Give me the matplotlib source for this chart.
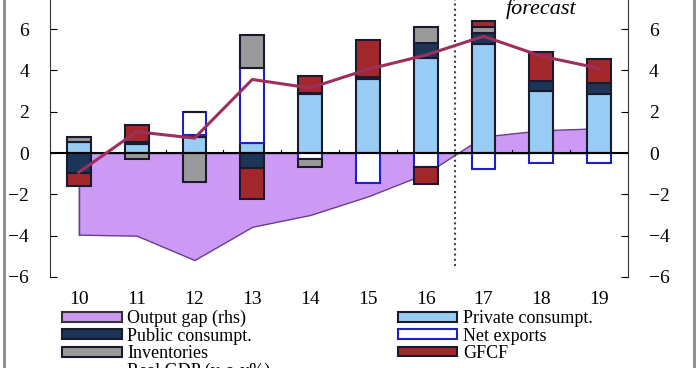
import numpy as np
import matplotlib.pyplot as plt
from matplotlib.patches import Patch, Rectangle
from matplotlib.lines import Line2D

plt.rcParams["font.family"] = ["Liberation Serif", "DejaVu Serif"]

years = ["10", "11", "12", "13", "14", "15", "16", "17", "18", "19"]
private_c = [0.55, 0.45, 0.80, 0.47, 2.85, 3.60, 4.58, 5.30, 3.00, 2.85]
public_c = [-0.97, 0.10, 0.07, -0.74, 0.05, 0.06, 0.73, 0.50, 0.47, 0.52]
net_exp = [0.00, 0.00, 1.13, 3.63, -0.30, -1.44, -0.66, -0.77, -0.50, -0.47]
invent = [0.24, -0.29, -1.39, 1.60, -0.36, 0.00, 0.80, 0.30, 0.00, 0.00]
gfcf = [-0.63, 0.80, 0.00, -1.50, 0.85, 1.80, -0.84, 0.30, 1.42, 1.18]
real_gdp = [-0.93, 1.03, 0.72, 3.56, 3.15, 4.05, 4.74, 5.65, 4.69, 4.10]
output_gap = [-3.95, -4.00, -5.18, -3.57, -3.00, -2.10, -1.00, 0.80, 1.10, 1.20]

fig = plt.figure(figsize=(7, 3.68), dpi=100)
ax = fig.add_axes([0.0714, 0.2473, 0.8257, 0.786])
x = np.arange(len(years))
w = 0.41

# output gap area (rhs, same scale) behind the bars
ax.fill_between(x, 0, output_gap, color="#cc99f5", edgecolor="#6a3d8a", lw=1.0, zorder=1)
ax.plot([x[0], x[0]], [0, output_gap[0]], color="#6a3d8a", lw=1.0, zorder=1)

series = [
    (private_c, "#99ccf5", "#1a1a2e"),
    (public_c, "#1c3658", "#1a1a2e"),
    (net_exp, "white", "#1f1fc8"),
    (invent, "#9a9a9a", "#1a1a2e"),
    (gfcf, "#a3282c", "#1a1a2e"),
]
pos = np.zeros(len(x))
neg = np.zeros(len(x))
for vals, fc, ec in series:
    v = np.array(vals)
    bottom = np.where(v >= 0, pos, neg)
    ax.bar(x, v, w, bottom=bottom, color=fc, edgecolor=ec, lw=1.5, zorder=3)
    pos = pos + np.where(v > 0, v, 0)
    neg = neg + np.where(v < 0, v, 0)

ax.plot(x, real_gdp, color="#9c2f5c", lw=2.2, zorder=5)
ax.axhline(0, color="black", lw=1.5, zorder=4)
ax.plot([6.5, 6.5], [-5.45, 8], color="#444444", lw=1.5, ls=(0, (1, 1.5)), zorder=2)
ax.text(8.0, 6.95, "forecast", style="italic", fontsize=16, ha="center", va="center")

# small ticks on zero line between categories
for b in np.arange(0.5, 9, 1.0):
    if b != 6.5:
        ax.plot([b, b], [0, 0.15], color="black", lw=0.8, zorder=4)

ax.set_xlim(-0.5, 9.5)
ax.set_ylim(-6, 8)
ax.set_yticks([-6, -4, -2, 0, 2, 4, 6])
ax.set_xticks(x)
ax.set_xticklabels(years, fontsize=14)
ax.tick_params(axis="x", length=0, pad=10)
ax.tick_params(axis="y", direction="in", labelsize=14, length=5, pad=15)
for s in ["top", "bottom"]:
    ax.spines[s].set_visible(False)
ax.spines["right"].set_visible(False)

ax2 = ax.twinx()
ax2.set_ylim(-6, 8)
ax2.set_yticks([-6, -4, -2, 0, 2, 4, 6])
ax2.tick_params(axis="y", direction="in", labelsize=14, length=5, pad=15)
for s in ["top", "bottom", "left"]:
    ax2.spines[s].set_visible(False)
ax.spines["left"].set_color("#333333")
ax2.spines["right"].set_color("#333333")

handles = [
    Patch(facecolor="#cc99f5", edgecolor="#333333", lw=1.5),
    Patch(facecolor="#1c3658", edgecolor="#1a1a2e", lw=1.5),
    Patch(facecolor="#9a9a9a", edgecolor="#1a1a2e", lw=1.5),
    Line2D([0], [0], color="#9c2f5c", lw=2),
    Patch(facecolor="#99ccf5", edgecolor="#1a1a2e", lw=1.5),
    Patch(facecolor="white", edgecolor="#1f1fc8", lw=1.5),
    Patch(facecolor="#a3282c", edgecolor="#1a1a2e", lw=1.5),
]
labels = ["Output gap (rhs)", "Public consumpt.", "Inventories", "Real GDP (y-o-y%)",
          "Private consumpt.", "Net exports", "GFCF"]
fig.legend(handles, labels, ncol=2, loc="upper left", bbox_to_anchor=(0.076, 0.182),
           frameon=False, fontsize=13, handlelength=3.3, handleheight=0.45,
           labelspacing=0.02, columnspacing=7.05, handletextpad=0.3, borderpad=0)

# figure border (cropped frame)
fig.patches.append(Rectangle((0.005, -0.1), 0.987, 1.3, transform=fig.transFigure,
                             fill=False, edgecolor="#888888", lw=2))

fig.savefig("out.png", dpi=100)
